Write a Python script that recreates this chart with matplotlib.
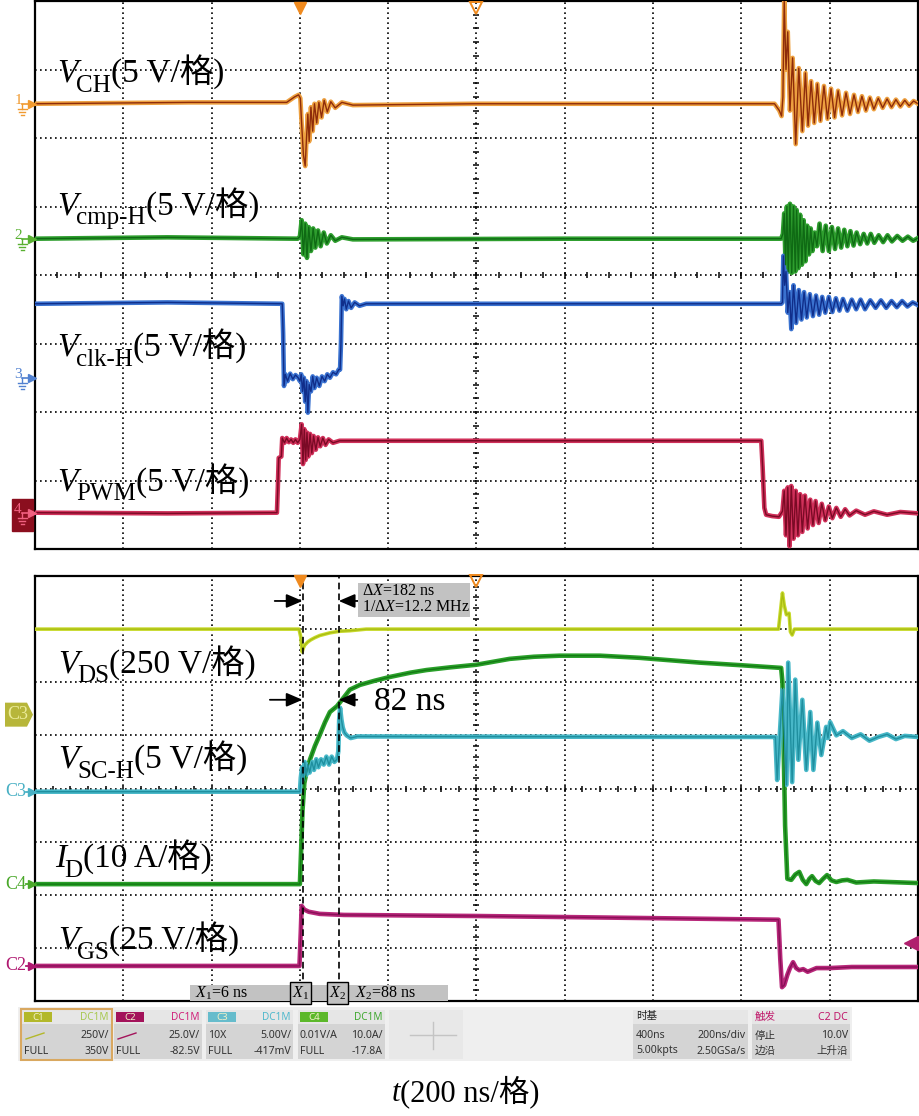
import numpy as np
import matplotlib
matplotlib.use('Agg')
import matplotlib.pyplot as plt
from matplotlib.patches import Rectangle, Polygon

SERIF = ['Liberation Serif', 'Noto Sans CJK SC']
SANS = ['Noto Sans', 'Noto Sans CJK SC']
plt.rcParams['mathtext.fontset'] = 'custom'
plt.rcParams['mathtext.rm'] = 'Liberation Serif'
plt.rcParams['mathtext.it'] = 'Liberation Serif:italic'

# time in ns (200 ns/div, trigger at 0), level in screen divisions (0..8)
vch = [(-600, 6.50), (-250, 6.52), (-30, 6.52), (-12, 6.60), (-3, 6.63), (1, 6.58), (4, 6.20), (8, 5.75),
       (12, 5.59), (15, 6.00), (18, 6.35), (21, 5.95), (25, 6.45), (29, 6.10), (33, 6.50), (38, 6.22),
       (43, 6.52), (49, 6.30), (55, 6.55), (62, 6.38), (70, 6.53), (80, 6.44), (95, 6.52), (120, 6.48),
       (400, 6.50), (700, 6.50), (1075, 6.50), (1086, 6.40), (1091, 6.32), (1094, 6.60), (1097, 8.00),
       (1101, 7.00), (1105, 7.55), (1110, 6.40), (1116, 7.17), (1123, 5.91), (1130, 7.02), (1138, 6.10),
       (1145, 6.95), (1151, 6.18), (1158, 6.83), (1165, 6.22), (1172, 6.79), (1179, 6.25), (1187, 6.76),
       (1195, 6.28), (1203, 6.72), (1211, 6.30), (1219, 6.69), (1228, 6.33), (1237, 6.66), (1246, 6.35),
       (1255, 6.63), (1264, 6.38), (1273, 6.61), (1282, 6.40), (1291, 6.59), (1300, 6.42), (1310, 6.58),
       (1320, 6.44), (1330, 6.57), (1340, 6.45), (1350, 6.56), (1360, 6.46), (1370, 6.55), (1380, 6.47),
       (1390, 6.54), (1400, 6.50)]
vcmp = [(-600, 4.53), (-300, 4.55), (-5, 4.53), (0, 4.56), (4, 4.80), (8, 4.30), (12, 4.75), (16, 4.25),
        (20, 4.70), (25, 4.35), (30, 4.68), (35, 4.40), (41, 4.65), (47, 4.42), (54, 4.62), (61, 4.46),
        (70, 4.58), (80, 4.50), (95, 4.55), (120, 4.52), (600, 4.53), (1090, 4.53), (1094, 4.60), (1097, 4.90),
        (1100, 4.15), (1103, 5.00), (1106, 4.05), (1110, 5.04), (1114, 4.03), (1118, 5.00), (1122, 4.05),
        (1125, 4.95), (1129, 4.10), (1133, 4.88), (1137, 4.15), (1141, 4.80), (1145, 4.20), (1149, 4.72),
        (1153, 4.30), (1157, 4.68), (1161, 4.35), (1166, 4.62), (1171, 4.42), (1177, 4.75), (1184, 4.35),
        (1191, 4.72), (1198, 4.35), (1205, 4.70), (1212, 4.38), (1219, 4.68), (1226, 4.40), (1233, 4.66),
        (1240, 4.42), (1247, 4.64), (1254, 4.43), (1261, 4.62), (1269, 4.45), (1277, 4.60), (1285, 4.46),
        (1293, 4.60), (1301, 4.47), (1311, 4.58), (1321, 4.48), (1331, 4.58), (1341, 4.49), (1353, 4.57),
        (1365, 4.50), (1377, 4.56), (1389, 4.50), (1400, 4.54)]
vclk = [(-600, 3.58), (-300, 3.60), (-40, 3.58), (-38, 3.15), (-36, 2.38), (-33, 2.55), (-28, 2.45),
        (-22, 2.56), (-16, 2.48), (-10, 2.54), (-4, 2.50), (0, 2.45), (3, 2.55), (6, 2.30), (9, 2.50),
        (12, 2.15), (15, 2.45), (18, 1.99), (21, 2.40), (25, 2.30), (29, 2.52), (33, 2.35), (38, 2.50),
        (44, 2.38), (50, 2.52), (56, 2.45), (62, 2.55), (68, 2.50), (75, 2.58), (82, 2.55), (88, 2.62),
        (91, 2.62), (93, 3.00), (95, 3.69), (98, 3.55), (101, 3.65), (105, 3.50), (110, 3.62), (116, 3.52),
        (124, 3.60), (135, 3.55), (150, 3.58), (1090, 3.58), (1093, 3.60), (1095, 4.28), (1098, 3.85),
        (1101, 4.05), (1105, 3.45), (1109, 3.75), (1113, 3.21), (1118, 3.85), (1124, 3.30), (1130, 3.78),
        (1136, 3.35), (1142, 3.75), (1148, 3.38), (1155, 3.72), (1162, 3.40), (1169, 3.70), (1176, 3.42),
        (1183, 3.68), (1190, 3.45), (1198, 3.68), (1206, 3.46), (1214, 3.66), (1222, 3.48), (1230, 3.65),
        (1240, 3.48), (1250, 3.64), (1260, 3.50), (1270, 3.64), (1280, 3.50), (1292, 3.63), (1304, 3.52),
        (1316, 3.63), (1328, 3.52), (1340, 3.62), (1352, 3.53), (1364, 3.62), (1376, 3.54), (1388, 3.60),
        (1400, 3.56)]
vpwm = [(-600, 0.53), (-300, 0.52), (-52, 0.53), (-50, 0.90), (-48, 1.33), (-42, 1.35), (-40, 1.62),
        (-35, 1.55), (-30, 1.62), (-25, 1.56), (-20, 1.60), (-15, 1.55), (-10, 1.60), (-5, 1.55), (0, 1.60),
        (4, 1.82), (7, 1.24), (10, 1.75), (13, 1.30), (16, 1.70), (19, 1.35), (23, 1.68), (27, 1.40),
        (31, 1.65), (36, 1.45), (41, 1.63), (46, 1.50), (52, 1.62), (58, 1.52), (65, 1.60), (75, 1.55),
        (90, 1.58), (1045, 1.58), (1048, 1.20), (1052, 0.60), (1056, 0.50), (1070, 0.48), (1085, 0.47),
        (1093, 0.55), (1097, 0.85), (1101, 0.20), (1105, 0.90), (1109, 0.04), (1113, 0.92), (1118, 0.15),
        (1123, 0.85), (1128, 0.20), (1133, 0.80), (1138, 0.25), (1144, 0.78), (1150, 0.30), (1156, 0.72),
        (1162, 0.35), (1168, 0.70), (1175, 0.38), (1182, 0.66), (1190, 0.42), (1198, 0.62), (1206, 0.45),
        (1215, 0.60), (1225, 0.47), (1235, 0.58), (1245, 0.49), (1260, 0.56), (1280, 0.50), (1300, 0.55),
        (1330, 0.50), (1360, 0.54), (1400, 0.52)]

c1 = [(-600, 7.00), (-2, 7.00), (2, 6.85), (5, 6.57), (8, 6.65), (11, 6.70), (18, 6.76), (25, 6.80),
      (34, 6.84), (45, 6.88), (68, 6.93), (90, 6.96), (113, 6.97), (150, 7.00), (1084, 7.00), (1088, 7.30),
      (1093, 7.68), (1097, 7.45), (1102, 7.27), (1108, 7.30), (1111, 6.95), (1115, 6.89), (1120, 7.00),
      (1400, 7.00)]
vds = [(-600, 2.20), (0, 2.20), (3, 2.90), (6, 3.60), (10, 4.10), (16, 4.35), (23, 4.55), (34, 4.80),
       (45, 5.01), (57, 5.25), (68, 5.44), (84, 5.55), (100, 5.72), (113, 5.86), (136, 5.95), (170, 6.03),
       (204, 6.10), (250, 6.18), (287, 6.23), (340, 6.28), (400, 6.33), (475, 6.44), (530, 6.48), (588, 6.50),
       (680, 6.50), (769, 6.46), (905, 6.37), (1000, 6.32), (1090, 6.27), (1093, 6.00), (1099, 3.30),
       (1104, 2.30), (1113, 2.28), (1122, 2.38), (1131, 2.43), (1139, 2.28), (1147, 2.20), (1154, 2.30),
       (1160, 2.35), (1168, 2.26), (1176, 2.22), (1185, 2.30), (1194, 2.37), (1204, 2.27), (1215, 2.24),
       (1228, 2.27), (1240, 2.28), (1260, 2.23), (1300, 2.25), (1400, 2.22)]
vsc = [(-600, 3.94), (0, 3.94), (2, 4.20), (5, 4.40), (8, 4.15), (11, 4.50), (14, 4.25), (18, 4.45),
       (22, 4.30), (27, 4.50), (32, 4.35), (37, 4.55), (42, 4.40), (48, 4.55), (54, 4.45), (60, 4.60),
       (66, 4.45), (72, 4.60), (78, 4.50), (84, 4.55), (87, 4.70), (89, 5.30), (91, 5.52), (94, 5.30),
       (97, 5.15), (101, 5.05), (106, 5.00), (115, 4.95), (130, 4.98), (1070, 4.97), (1077, 4.97),
       (1081, 4.16), (1093, 5.86), (1102, 4.07), (1106, 6.37), (1115, 4.12), (1122, 6.05), (1129, 4.54),
       (1138, 5.67), (1147, 4.35), (1156, 5.44), (1163, 4.35), (1172, 5.24), (1181, 4.63), (1192, 5.16),
       (1196, 4.95), (1201, 5.25), (1215, 5.00), (1230, 5.08), (1250, 4.95), (1270, 5.02), (1290, 4.90),
       (1310, 4.97), (1330, 5.02), (1350, 4.93), (1370, 4.99), (1400, 4.97)]
vgs = [(-600, 0.66), (-1, 0.66), (2, 1.30), (4, 1.79), (10, 1.72), (20, 1.68), (45, 1.64), (100, 1.62),
       (400, 1.60), (700, 1.57), (1084, 1.53), (1088, 0.80), (1092, 0.26), (1097, 0.30), (1104, 0.49),
       (1110, 0.62), (1117, 0.73), (1124, 0.62), (1131, 0.58), (1140, 0.60), (1150, 0.55), (1170, 0.62),
       (1200, 0.62), (1250, 0.64), (1400, 0.64)]

X1, X2 = 6, 88          # cursor positions, ns
trig_level = 1.09       # C2 trigger level marker, div

fig = plt.figure(figsize=(9.2, 11.16), dpi=100)
ax1 = fig.add_axes([35/920, 567/1116, 883/920, 548/1116])
ax2 = fig.add_axes([35/920, 115/1116, 883/920, 425/1116])
ov = fig.add_axes([0, 0, 1, 1], zorder=5)
ov.set_xlim(0, 920)
ov.set_ylim(1116, 0)
ov.axis('off')


def scope_grid(ax, hstep):
    ax.set_xlim(-600, 1400)
    ax.set_ylim(0, 8)
    ax.set_xticks([])
    ax.set_yticks([])
    for s in ax.spines.values():
        s.set_linewidth(1.6)
    for x in range(-400, 1400, 200):
        ax.axvline(x, color='k', lw=1.2, ls=(0, (1, 2.0)), zorder=1)
    for y in range(1, 8):
        ax.axhline(y, color='k', lw=1.2, ls=(0, (1, 2.0)), zorder=1)
    tx = np.arange(-600, 1401, hstep)
    ax.plot(tx, np.full(len(tx), 4.0), ls='none', marker='|', ms=5, mew=1.1, color='k', zorder=1)
    ty = np.arange(0, 8.01, 0.2)
    ax.plot(np.full(len(ty), 400.0), ty, ls='none', marker='_', ms=5, mew=1.1, color='k', zorder=1)
    ax.plot([0], [7.9], marker='v', ms=9, color='#f08a1e', ls='none', clip_on=False, zorder=7)
    ax.plot([400], [7.9], marker='v', ms=9, mfc='none', mec='#f08a1e', mew=1.4, ls='none',
            clip_on=False, zorder=7)


def trace(ax, pts, outer, inner, lw=3.3):
    t, v = np.array(pts).T
    ax.plot(t, v, color=outer, lw=lw, zorder=3)
    ax.plot(t, v, color=inner, lw=1.0, zorder=3.1)


def chan_label(ax, x, y, main, sub, rest):
    t1 = ax.text(x, y, main, family=SERIF, style='italic', fontsize=24, va='baseline', zorder=6)
    t2 = ax.annotate(sub, xy=(1, y), xycoords=(t1, 'data'), xytext=(-1, -7), textcoords='offset points',
                     family=SERIF, fontsize=18, va='baseline', zorder=6)
    ax.annotate(rest, xy=(1, y), xycoords=(t2, 'data'), family=SERIF, fontsize=24, va='baseline', zorder=6)


def to_ov(ax, x, y):
    return ov.transData.inverted().transform(ax.transData.transform((x, y)))


scope_grid(ax1, 50)
scope_grid(ax2, 40)

trace(ax1, vch, '#eda040', '#8e2c0a')
trace(ax1, vcmp, '#2e9e2e', '#0f6a14')
trace(ax1, vclk, '#3a72d0', '#102e8a')
trace(ax1, vpwm, '#d0305a', '#7a0a25')

trace(ax2, c1, '#c8da2c', '#a9bd12', lw=2.6)
trace(ax2, vds, '#2aa02a', '#137a13')
trace(ax2, vsc, '#48b8c8', '#1f8f9f')
trace(ax2, vgs, '#b8287a', '#8a0f58')

chan_label(ax1, -550, 6.82, 'V', 'CH', '(5 V/格)')
chan_label(ax1, -550, 4.88, 'V', 'cmp-H', '(5 V/格)')
chan_label(ax1, -550, 2.82, 'V', 'clk-H', '(5 V/格)')
chan_label(ax1, -550, 0.85, 'V', 'PWM', '(5 V/格)')
chan_label(ax2, -548, 6.18, 'V', 'DS', '(250 V/格)')
chan_label(ax2, -548, 4.39, 'V', 'SC-H', '(5 V/格)')
chan_label(ax2, -555, 2.52, 'I', 'D', '(10 A/格)')
chan_label(ax2, -548, 0.98, 'V', 'GS', '(25 V/格)')

# cursors
for xc in (X1, X2):
    ax2.axvline(xc, color='k', lw=1.2, ls=(0, (4, 2.5)), zorder=4)
arrow = dict(arrowstyle='-|>,head_length=0.7,head_width=0.3', color='k', lw=1.3,
             shrinkA=0, shrinkB=0, mutation_scale=14)
ax2.annotate('', xy=(X1, 7.53), xytext=(-57, 7.53), arrowprops=arrow, zorder=4.5)
ax2.annotate('', xy=(X2, 7.53), xytext=(150, 7.53), arrowprops=arrow, zorder=4.5)
ax2.annotate('', xy=(X1, 5.67), xytext=(-68, 5.67), arrowprops=arrow, zorder=6)
ax2.annotate('', xy=(X2, 5.67), xytext=(130, 5.67), arrowprops=arrow, zorder=6)
ax2.text(167, 5.63, '82 ns', family=SERIF, fontsize=24, va='center', zorder=6)

ax2.add_patch(Rectangle((131, 7.23), 254, 0.64, fc='#c2c2c2', ec='none', zorder=5))
ax2.text(140, 7.71, r'$\Delta X$=182 ns', family=SERIF, fontsize=11.5, va='center', zorder=6)
ax2.text(140, 7.41, r'1/$\Delta X$=12.2 MHz', family=SERIF, fontsize=11.5, va='center', zorder=6)

ax2.add_patch(Rectangle((-250, 0.0), 585, 0.31, fc='#c2c2c2', ec='none', zorder=5))
ax2.text(-238, 0.15, r'$X_1$=6 ns', family=SERIF, fontsize=11.5, va='center', zorder=6)
ax2.text(124, 0.15, r'$X_2$=88 ns', family=SERIF, fontsize=11.5, va='center', zorder=6)
for xc, lab in ((X1 - 4, r'$X_1$'), (X2 - 2, r'$X_2$')):
    ax2.text(xc, 0.15, lab, family=SERIF, fontsize=11.5, ha='center', va='center', zorder=6,
             bbox=dict(boxstyle='square,pad=0.12', fc='#c2c2c2', ec='k', lw=1))


# ground markers of the upper panel
def gnd_marker(ax, level, label, color, box=None):
    x0, y0 = to_ov(ax, -600, level)
    if box:
        ov.add_patch(Rectangle((x0 - 23, y0 - 14), 21, 32, color=box, zorder=1))
    ov.plot([x0 - 13, x0 - 4], [y0, y0], color=color, lw=1.2)
    ov.plot([x0 - 3], [y0], marker='>', ms=6, color=color, ls='none')
    ov.plot([x0 - 13, x0 - 13], [y0, y0 + 5], color=color, lw=1)
    for i, w in enumerate([9, 6, 3]):
        ov.plot([x0 - 13 - w / 2, x0 - 13 + w / 2], [y0 + 5 + 3 * i] * 2, color=color, lw=1)
    ov.text(x0 - 17, y0 - 3, label, family=SERIF, fontsize=11, color=color, ha='center', va='center')


gnd_marker(ax1, 6.50, '1', '#f09a30')
gnd_marker(ax1, 4.53, '2', '#58b030')
gnd_marker(ax1, 2.50, '3', '#5080d0')
gnd_marker(ax1, 0.53, '4', '#f06080', box='#8b0e1e')


def chan_tag(ax, level, label, color):
    x0, y0 = to_ov(ax, -600, level)
    ov.plot([x0 - 9, x0 - 3], [y0, y0], color=color, lw=1.3)
    ov.plot([x0 - 3], [y0], marker='>', ms=6, color=color, ls='none')
    ov.text(x0 - 9, y0, label, family=SERIF, fontsize=13, color=color, ha='right', va='center')


x0, y0 = to_ov(ax2, -600, 5.39)
ov.add_patch(Polygon([(x0 - 30, y0 - 12), (x0 - 8, y0 - 12), (x0 - 2, y0), (x0 - 8, y0 + 12),
                      (x0 - 30, y0 + 12)], closed=True, fc='#b7b63a', ec='none'))
ov.text(x0 - 17, y0, 'C3', family=SERIF, fontsize=13, color='#ecec9a', ha='center', va='center')
chan_tag(ax2, 3.94, 'C3', '#48b0c4')
chan_tag(ax2, 2.20, 'C4', '#4aa82a')
chan_tag(ax2, 0.66, 'C2', '#b01870')
xr, yr = to_ov(ax2, 1400, trig_level)
ov.plot([xr - 7], [yr], marker='<', ms=10, color='#b0206e', ls='none')

# status bar
ov.add_patch(Rectangle((18, 1007), 834, 54, fc='#efefef', ec='none'))
chan_blocks = [
    ('C1', 22, 111, '#b3b82a', '#a8c850', '', '250V/', 'FULL', '350V'),
    ('C2', 114, 202, '#a3135a', '#d0207a', '', '25.0V/', 'FULL', '-82.5V'),
    ('C3', 206, 293, '#66bccc', '#50b8cc', '10X', '5.00V/', 'FULL', '-417mV'),
    ('C4', 298, 385, '#5cb82a', '#40a830', '0.01V/A', '10.0A/', 'FULL', '-17.8A'),
]
txt = dict(family=SANS, fontsize=7.6, color='#333333', va='center')
for name, xa, xb, badge, dccol, l2, r2, l3, r3 in chan_blocks:
    ov.add_patch(Rectangle((xa, 1010), xb - xa, 14, fc='#e6e6e6', ec='none'))
    ov.add_patch(Rectangle((xa, 1024), xb - xa, 35, fc='#d4d4d4', ec='none'))
    ov.add_patch(Rectangle((xa + 2, 1012), 28, 10, fc=badge, ec='none'))
    ov.text(xa + 16, 1017, name, family=SANS, fontsize=7, color='#f0f0c8', ha='center', va='center')
    ov.text(xb - 2, 1017, 'DC1M', family=SANS, fontsize=7.2, color=dccol, ha='right', va='center')
    if l2:
        ov.text(xa + 2, 1036, l2, ha='left', **txt)
    else:
        ov.plot([xa + 4, xa + 22], [1039, 1033], color=badge, lw=1)
    ov.text(xb - 2, 1036, r2, ha='right', **txt)
    ov.text(xa + 2, 1051, l3, ha='left', **txt)
    ov.text(xb - 2, 1051, r3, ha='right', **txt)
ov.add_patch(Rectangle((21, 1009), 91, 51, fc='none', ec='#d9a860', lw=1.5))
ov.add_patch(Rectangle((389, 1010), 74, 49, fc='#e8e8e8', ec='none'))
ov.plot([410, 456], [1035, 1035], color='#c4c4c4', lw=1)
ov.plot([433, 433], [1022, 1049], color='#c4c4c4', lw=1)

info_blocks = [
    (633, 748, ('时基', '#222222'), ('', '#222222'), ('400ns', '200ns/div'), ('5.00kpts', '2.50GSa/s')),
    (752, 850, ('触发', '#c0186a'), ('C2 DC', '#c0186a'), ('停止', '10.0V'), ('边沿', '上升沿')),
]
for xa, xb, hl, hr, row2, row3 in info_blocks:
    ov.add_patch(Rectangle((xa, 1010), xb - xa, 14, fc='#e6e6e6', ec='none'))
    ov.add_patch(Rectangle((xa, 1024), xb - xa, 35, fc='#d4d4d4', ec='none'))
    ov.text(xa + 3, 1017, hl[0], ha='left', **{**txt, 'color': hl[1]})
    ov.text(xb - 2, 1017, hr[0], ha='right', **{**txt, 'color': hr[1]})
    ov.text(xa + 3, 1036, row2[0], ha='left', **txt)
    ov.text(xb - 2, 1036, row2[1], ha='right', **txt)
    ov.text(xa + 3, 1051, row3[0], ha='left', **txt)
    ov.text(xb - 2, 1051, row3[1], ha='right', **txt)

# time axis label
tl = ov.text(392, 1101, 't', family=SERIF, style='italic', fontsize=22, va='baseline')
ov.annotate('(200 ns/格)', xy=(1, 1101), xycoords=(tl, 'data'), family=SERIF, fontsize=22, va='baseline')

fig.savefig('out.png', dpi=100)
